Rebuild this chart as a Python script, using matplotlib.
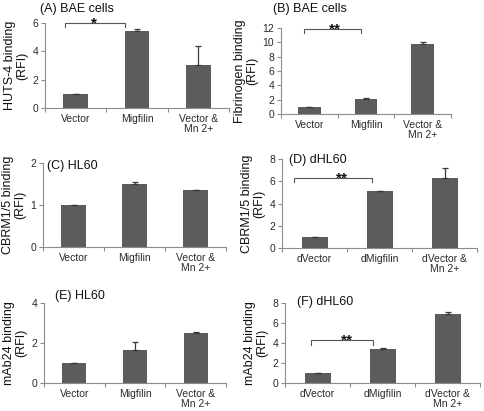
import matplotlib
matplotlib.use("Agg")
import matplotlib.pyplot as plt
import numpy as np

plt.rcParams['font.family'] = ['Liberation Sans', 'DejaVu Sans']

W, H = 484, 411

# ---- data ----
cats_plain = ["Vector", "Migfilin", "Vector &\nMn 2+"]
cats_d = ["dVector", "dMigfilin", "dVector &\nMn 2+"]

a_vals = [1.0, 5.45, 3.0]
a_err = [0.02, 0.12, 1.35]
b_vals = [1.0, 2.05, 9.75]
b_err = [0.03, 0.2, 0.35]
c_vals = [1.0, 1.51, 1.35]
c_err = [0.01, 0.04, 0.01]
d_vals = [1.0, 5.1, 6.25]
d_err = [0.02, 0.04, 0.95]
e_vals = [1.0, 1.65, 2.5]
e_err = [0.01, 0.4, 0.06]
f_vals = [1.0, 3.45, 6.9]
f_err = [0.01, 0.07, 0.17]

a_ticks = [0, 2, 4, 6]
b_ticks = [0, 2, 4, 6, 8, 10, 12]
c_ticks = [0, 1, 2]
d_ticks = [0, 2, 4, 6, 8]
e_ticks = [0, 2, 4]
f_ticks = [0, 2, 4, 6, 8]

panels = [
    dict(rect=(45, 229, 23, 108), cats=cats_plain, vals=a_vals, err=a_err, ticks=a_ticks,
         ylabel="HUTS-4 binding\n(RFI)", title="(A) BAE cells", tpos=(40, 9),
         bracket=(-0.18, 0.8, 6.0, 0.3, "*", 0.3)),
    dict(rect=(281, 451, 28, 114), cats=cats_plain, vals=b_vals, err=b_err, ticks=b_ticks,
         ylabel="Fibrinogen binding\n(RFI)", title="(B) BAE cells", tpos=(273, 9),
         bracket=(-0.1, 0.92, 11.8, 0.5, "**", 0.46)),
    dict(rect=(43, 226, 163, 247), cats=cats_plain, vals=c_vals, err=c_err, ticks=c_ticks,
         ylabel="CBRM1/5 binding\n(RFI)", title="(C) HL60", tpos=(47, 166),
         bracket=None),
    dict(rect=(282, 477, 159, 248), cats=cats_d, vals=d_vals, err=d_err, ticks=d_ticks,
         ylabel="CBRM1/5 binding\n(RFI)", title="(D) dHL60", tpos=(289, 160),
         bracket=(-0.32, 0.88, 6.25, 0.3, "**", 0.43)),
    dict(rect=(44, 226, 303, 383), cats=cats_plain, vals=e_vals, err=e_err, ticks=e_ticks,
         ylabel="mAb24 binding\n(RFI)", title="(E) HL60", tpos=(55, 296),
         bracket=None),
    dict(rect=(285, 480, 303, 383), cats=cats_d, vals=f_vals, err=f_err, ticks=f_ticks,
         ylabel="mAb24 binding\n(RFI)", title="(F) dHL60", tpos=(297, 302),
         bracket=(-0.1, 0.85, 4.27, 0.5, "**", 0.46)),
]

fig = plt.figure(figsize=(W / 100, H / 100), dpi=100)
fig.patch.set_facecolor("white")

bar_color = "#5c5c5c"
axis_color = "#8c8c8c"
text_color = "#2a2a2a"

for p in panels:
    l, r, t, b = p["rect"]
    ax = fig.add_axes([l / W, 1 - b / H, (r - l) / W, (b - t) / H])
    x = np.arange(len(p["cats"]))
    ax.bar(x, p["vals"], width=0.4, color=bar_color, zorder=2)
    ax.errorbar(x, p["vals"], yerr=[np.zeros(len(x)), p["err"]], fmt="none",
                ecolor="#3a3a3a", elinewidth=0.9, capsize=2.5, capthick=0.9, zorder=3)
    ax.set_xlim(-0.5, len(x) - 0.5)
    ax.set_ylim(p["ticks"][0], p["ticks"][-1])
    ax.set_yticks(p["ticks"])
    ax.set_yticklabels([str(v) for v in p["ticks"]], fontsize=7.5, color=text_color)
    ax.set_xticks(np.arange(-0.5, len(x), 1.0))
    ax.set_xticklabels([])
    ax.set_xticks(x, minor=True)
    ax.set_xticklabels(p["cats"], minor=True, fontsize=7.5, color=text_color, linespacing=1.05)
    ax.tick_params(axis="x", which="major", length=3, color=axis_color, direction="out")
    ax.tick_params(axis="x", which="minor", length=0, pad=4)
    ax.tick_params(axis="y", length=3, color=axis_color, direction="out", pad=2)
    for s in ("top", "right"):
        ax.spines[s].set_visible(False)
    for s in ("left", "bottom"):
        ax.spines[s].set_color(axis_color)
        ax.spines[s].set_linewidth(0.8)
    ax.set_ylabel(p["ylabel"], fontsize=9, color="#111111", labelpad=3, linespacing=1.05)
    fig.text(p["tpos"][0] / W, 1 - p["tpos"][1] / H, p["title"], fontsize=9,
             ha="left", va="center", color="#111111")
    if p["bracket"] is not None:
        x0, x1, yb, drop, lab, lx = p["bracket"]
        ax.plot([x0, x0, x1, x1], [yb - drop, yb, yb, yb - drop], color="#555555",
                lw=0.8, clip_on=False, zorder=4)
        ax.annotate(lab, xy=(lx, yb), xytext=(0, -4), textcoords="offset pixels",
                    ha="center", va="baseline", fontsize=11, fontweight="bold",
                    color="#111111", annotation_clip=False)
    ax.patch.set_alpha(0)

fig.savefig("out.png", dpi=100, facecolor="white")
